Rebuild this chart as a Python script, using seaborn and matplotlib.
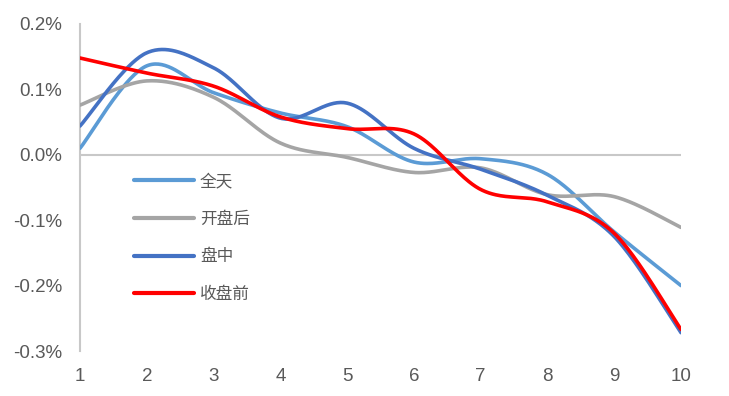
import numpy as np
import pandas as pd
import matplotlib
matplotlib.use("Agg")
import matplotlib.pyplot as plt
import seaborn as sns
from matplotlib.ticker import FuncFormatter

# ---- data (values in %) ----
x_vals = [1, 2, 3, 4, 5, 6, 7, 8, 9, 10]
quan_tian = [0.010, 0.136, 0.095, 0.064, 0.043, -0.011, -0.006, -0.030, -0.118, -0.200]
kai_pan_hou = [0.076, 0.113, 0.088, 0.018, -0.004, -0.027, -0.020, -0.061, -0.064, -0.111]
pan_zhong = [0.044, 0.156, 0.133, 0.056, 0.079, 0.010, -0.022, -0.062, -0.125, -0.272]
shou_pan_qian = [0.148, 0.125, 0.105, 0.058, 0.040, 0.032, -0.053, -0.072, -0.120, -0.267]
series_names = ["全天", "开盘后", "盘中", "收盘前"]
colors = ["#5B9BD5", "#A5A5A5", "#4472C4", "#FF0000"]
y_ticks = [0.2, 0.1, 0.0, -0.1, -0.2, -0.3]


def excel_smooth(xs, ys, n=40):
    """Excel-style smoothed line (Bezier with Catmull-Rom control points)."""
    xs = np.asarray(xs, float)
    ys = np.asarray(ys, float)
    pts = np.column_stack([xs, ys])
    out = []
    m = len(pts)
    for i in range(m - 1):
        p0 = pts[i - 1] if i > 0 else pts[i]
        p1 = pts[i]
        p2 = pts[i + 1]
        p3 = pts[i + 2] if i + 2 < m else pts[i + 1]
        c1 = p1 + (p2 - p0) / 6.0
        c2 = p2 - (p3 - p1) / 6.0
        t = np.linspace(0, 1, n, endpoint=(i == m - 2))[:, None]
        b = ((1 - t) ** 3) * p1 + 3 * ((1 - t) ** 2) * t * c1 + 3 * (1 - t) * t ** 2 * c2 + t ** 3 * p2
        out.append(b)
    arr = np.vstack(out)
    return arr[:, 0], arr[:, 1]


frames = []
for name, vals in zip(series_names, [quan_tian, kai_pan_hou, pan_zhong, shou_pan_qian]):
    sx, sy = excel_smooth(x_vals, vals)
    frames.append(pd.DataFrame({"x": sx, "y": sy, "series": name}))
df = pd.concat(frames, ignore_index=True)

sns.set_theme(style="white")
plt.rcParams["font.family"] = ["Liberation Sans", "Noto Sans CJK SC", "DejaVu Sans"]

fig = plt.figure(figsize=(7.29, 3.96), dpi=100)
ax = fig.add_axes([80 / 729, 1 - 351 / 396, 601 / 729, 327 / 396])

ax.axhline(0, color="#C8C8C8", lw=1.5, zorder=1)

sns.lineplot(data=df, x="x", y="y", hue="series", hue_order=series_names,
             palette=colors, sort=False, estimator=None,
             linewidth=2.6, ax=ax, zorder=3)

ax.set_xlim(1, 10)
ax.set_ylim(-0.3, 0.2)
ax.set_xticks(x_vals)
ax.set_xticklabels([str(v) for v in x_vals])
ax.set_yticks(y_ticks)
ax.yaxis.set_major_formatter(FuncFormatter(lambda v, p: f"{v:.1f}%"))
ax.tick_params(axis="both", length=0, labelsize=13.5, labelcolor="#595959")
ax.tick_params(axis="x", pad=12)
ax.tick_params(axis="y", pad=13)
ax.set_xlabel("")
ax.set_ylabel("")
for s in ["top", "right", "bottom"]:
    ax.spines[s].set_visible(False)
ax.spines["left"].set_color("#C8C8C8")
ax.spines["left"].set_linewidth(1.5)
ax.grid(False)

handles, labels = ax.get_legend_handles_labels()
leg = ax.legend(handles, labels, loc="upper left", bbox_to_anchor=(0.0898, 0.544),
                frameon=False, borderpad=0, borderaxespad=0,
                handlelength=3.6, handletextpad=0.36, labelspacing=1.24,
                prop={"family": ["Noto Sans CJK SC", "DejaVu Sans"], "size": 12})
for t in leg.get_texts():
    t.set_color("#595959")
for h in leg.get_lines():
    h.set_linewidth(3)

fig.savefig("out.png", dpi=100)
